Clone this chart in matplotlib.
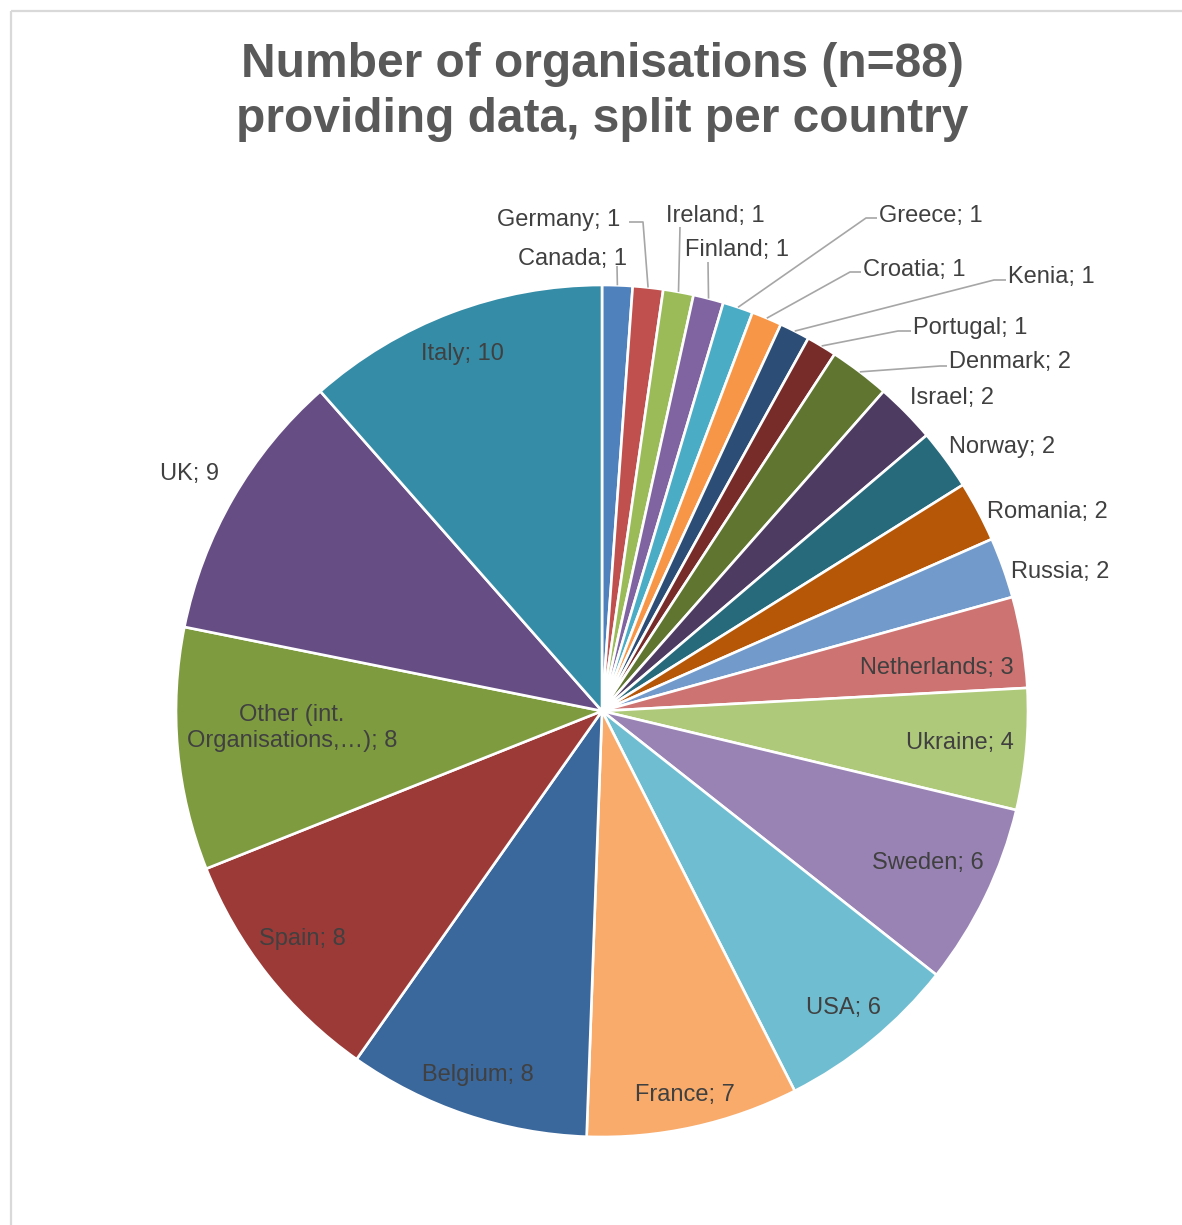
import numpy as np
import matplotlib.pyplot as plt
from matplotlib.patches import Rectangle

# Organisations per country, clockwise from 12 o'clock
countries = ['Canada', 'Germany', 'Ireland', 'Finland', 'Greece', 'Croatia', 'Kenia',
             'Portugal', 'Denmark', 'Israel', 'Norway', 'Romania', 'Russia',
             'Netherlands', 'Ukraine', 'Sweden', 'USA', 'France', 'Belgium', 'Spain',
             'Other (int.\nOrganisations,…)', 'UK', 'Italy']
counts = [1, 1, 1, 1, 1, 1, 1, 1, 2, 2, 2, 2, 2, 3, 4, 6, 6, 7, 8, 8, 8, 9, 10]

colors = ['#4F81BD', '#C0504D', '#9BBB59', '#8064A2', '#4BACC6', '#F79646',
          '#2C4D75', '#772C2A', '#5F7530', '#4D3B62', '#276A7C', '#B65708',
          '#729ACA', '#CD7371', '#AFC97A', '#9983B5', '#6FBDD1', '#F9AB6B',
          '#3A679C', '#9C3A38', '#7E9B40', '#664E85', '#358CA7']

# label placement in pixel coordinates: x, y, horizontal alignment, leader bend points
label_pos = {
    'Canada': (573, 259, 'center', [(617, 266)]),
    'Germany': (559, 220, 'center', [(643, 222), (629, 222)]),
    'Ireland': (715, 216, 'center', [(680, 227)]),
    'Finland': (737, 250, 'center', [(708, 262)]),
    'Greece': (879, 216, 'left', [(866, 218), (877, 218)]),
    'Croatia': (863, 270, 'left', [(850, 272), (861, 272)]),
    'Kenia': (1008, 277, 'left', [(994, 280), (1006, 280)]),
    'Portugal': (913, 328, 'left', [(898, 331), (911, 331)]),
    'Denmark': (949, 362, 'left', [(940, 366), (947, 366)]),
    'Israel': (910, 398, 'left', None),
    'Norway': (949, 447, 'left', None),
    'Romania': (987, 512, 'left', None),
    'Russia': (1011, 572, 'left', None),
    'Netherlands': (1014, 668, 'right', None),
    'Ukraine': (1014, 743, 'right', None),
    'Sweden': (928, 863, 'center', None),
    'USA': (844, 1008, 'center', None),
    'France': (685, 1095, 'center', None),
    'Belgium': (478, 1075, 'center', None),
    'Spain': (302, 939, 'center', None),
    'Other (int.\nOrganisations,…)': (292, 728, 'center', None),
    'UK': (190, 474, 'center', None),
    'Italy': (462, 354, 'center', None),
}

W, H = 1182, 1225
fig = plt.figure(figsize=(W / 100, H / 100), dpi=100)
ax = fig.add_axes([0, 0, 1, 1])

cx, cy, R = 602, 711, 426
wedges, _ = ax.pie(counts, colors=colors, startangle=-90, counterclock=True,
                   center=(cx, cy), radius=R,
                   wedgeprops=dict(edgecolor='white', linewidth=1.9))
ax.set_xlim(0, W)
ax.set_ylim(H, 0)
ax.set_aspect('equal')
ax.axis('off')

font = dict(family=['Liberation Sans', 'DejaVu Sans'], color='#404040', fontsize=17)

for w, name, n in zip(wedges, countries, counts):
    x, y, ha, bends = label_pos[name]
    ax.text(x, y, f'{name}; {n}', ha=ha, va='center', multialignment='center',
            linespacing=1.25, **font)
    if bends:
        # leader starts at the slice edge, at its mid angle
        mid = np.deg2rad((w.theta1 + w.theta2) / 2)
        ex, ey = cx + R * np.cos(mid), cy + R * np.sin(mid)
        xs = [ex] + [p[0] for p in bends]
        ys = [ey] + [p[1] for p in bends]
        ax.plot(xs, ys, color='#A6A6A6', lw=1.2, solid_capstyle='butt')

ax.text(602, 92, 'Number of organisations (n=88)\nproviding data, split per country',
        ha='center', va='center', fontsize=34.5, fontweight='bold', color='#595959',
        family=['Liberation Sans', 'DejaVu Sans'], linespacing=1.27)

# chart area border
ax.add_patch(Rectangle((11, 11), W, H, fill=False, edgecolor='#D9D9D9', lw=1.6))

fig.savefig('out.png', dpi=100)
